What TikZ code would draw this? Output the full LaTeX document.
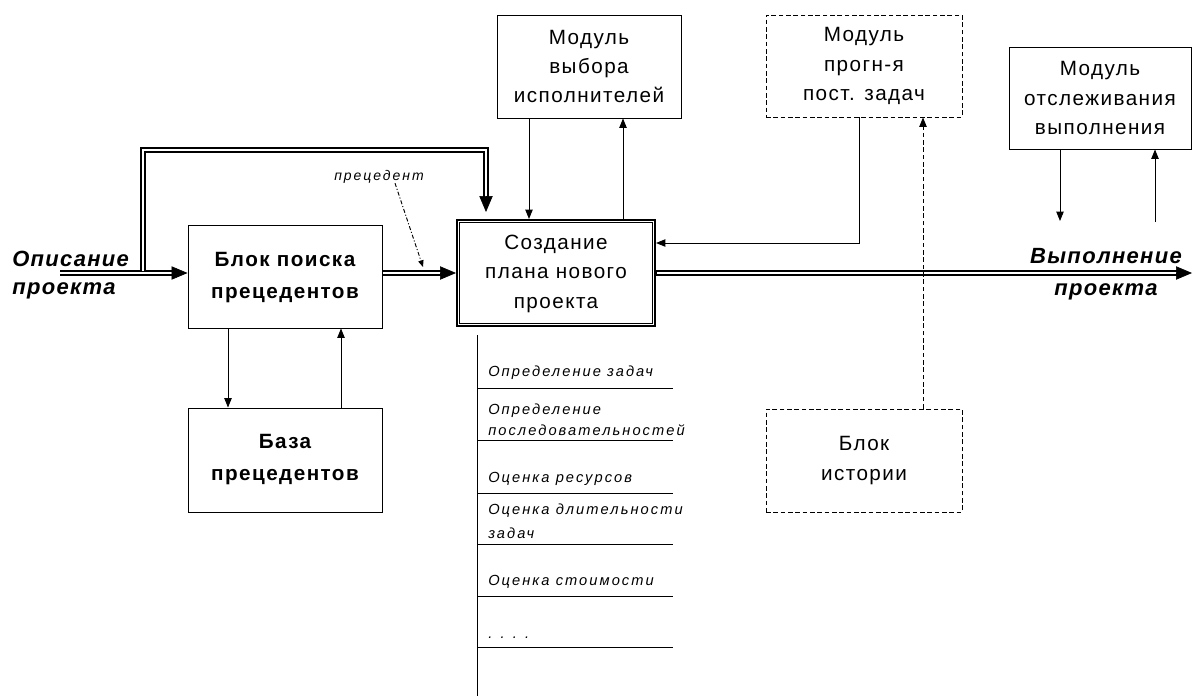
\documentclass[tikz,border=0pt]{standalone}
\usepackage{fontspec}
\setmainfont{Liberation Sans}
\newfontfamily\boxfont[LetterSpace=7]{Liberation Sans}
\newfontfamily\smallfont[LetterSpace=14]{Liberation Sans}
\newfontfamily\bigfont[LetterSpace=6]{Liberation Sans}
\usetikzlibrary{arrows.meta,calc}
\tikzset{
 box/.style={draw, line width=0.7pt, inner sep=0pt, align=center, font=\boxfont\fontsize{15.5}{22}\selectfont},
 boldbox/.style={box, font=\boxfont\bfseries\fontsize{15.5}{23}\selectfont},
 dbox/.style={box, dash pattern=on 3.5pt off 2pt},
 thinarr/.style={line width=0.7pt, -{Triangle[length=7pt,width=5.5pt]}},
 dblo/.style={line width=4.2pt, shorten >=9pt, line join=miter},
 dbli/.style={white, line width=1.6pt, shorten >=9pt, line join=miter},
 dtip/.style={line width=0.5pt, -{Triangle[length=12pt,width=10pt]}},
 big/.style={font=\bigfont\bfseries\itshape\fontsize{16.5}{22}\selectfont, inner sep=0pt},
 item/.style={font=\smallfont\itshape\fontsize{11}{16}\selectfont, inner sep=0pt, anchor=base west, align=left},
}
\begin{document}
\begin{tikzpicture}[x=0.75pt,y=-0.75pt]
\fill[white] (0,0) rectangle (1193,696);
\useasboundingbox (0,0) rectangle (1193,696);

% boxes
\node[boldbox, minimum width=145.5pt, minimum height=77.25pt] (A) at (285,276.5) {\raisebox{-4pt}{\begin{tabular}{@{}c@{}}Блок поиска\\[1pt]прецедентов\end{tabular}}};
\node[boldbox, minimum width=145.5pt, minimum height=78pt] (B) at (285,460) {База\\[1pt]прецедентов};
\node[box, minimum width=148.5pt, minimum height=79.5pt, line width=1.5pt] (C) at (556,273) {\raisebox{-3pt}{\begin{tabular}{@{}c@{}}Создание\\плана нового\\проекта\end{tabular}}};
\draw[line width=0.7pt] ([xshift=2.5pt,yshift=-2.5pt]C.north west) rectangle ([xshift=-2.5pt,yshift=2.5pt]C.south east);
\node[box, minimum width=138pt, minimum height=77.25pt] (D) at (589,66.5) {Модуль\\выбора\\исполнителей};
\node[dbox, minimum width=147pt, minimum height=76.5pt] (E) at (864,66) {Модуль\\прогн-я\\пост. задач};
\node[dbox, minimum width=147pt, minimum height=77.25pt] (F) at (864,460.5) {Блок\\истории};
\node[box, minimum width=136.5pt, minimum height=76.5pt] (G) at (1100,98) {Модуль\\отслеживания\\выполнения};

% labels (base anchor = last line's baseline)
\node[big, align=left, anchor=base west] (inl) at (12,294) {Описание\\[-1pt]проекта};
\node[big, align=center, anchor=base] (outl) at (1106,295) {Выполнение\\[2pt]проекта};
\node[font=\smallfont\itshape\fontsize{10.5}{12}\selectfont, inner sep=0pt, anchor=base] (prec) at (379,180) {прецедент};

% list
\draw[line width=0.75pt] (477,335) -- (477,696);
\foreach \y in {388,440,493,544,596,647} \draw[line width=0.7pt] (477,\y) -- (673,\y);
\node[item] (i1) at (488,376) {Определение задач};
\node[item, font=\smallfont\itshape\fontsize{11}{15.75}\selectfont] (i2) at (488,435) {Определение\\последовательностей};
\node[item] (i3) at (488,482) {Оценка ресурсов};
\node[item, font=\smallfont\itshape\fontsize{11}{18}\selectfont] (i4) at (488,538) {Оценка длительности\\задач};
\node[item] (i5) at (488,585) {Оценка стоимости};
\node[item] (i6) at (488,638) {. . . .};

% coordinates
\coordinate (in) at (60,273);
\coordinate (bj) at (143,270.5);
\coordinate (bc) at (143,150);
\coordinate (bd) at (486,150);
\coordinate (be) at (486,212);
\coordinate (out) at (1192,273);
\coordinate (pe) at (423,267);
\coordinate (gd) at (1060,221);
\coordinate (gu) at (1155,222);

% double connectors
\draw[dblo] (in) -- (in -| A.west);
\draw[dbli] (in) -- (in -| A.west);
\draw[dtip] ($(in -| A.west)+(-4,0)$) -- (in -| A.west);

\draw[dblo] (bj) -- (bc) -- (bd) -- (be);
\draw[dbli] (bj) -- (bc) -- (bd) -- (be);
\draw[dtip] ($(be)+(0,-4)$) -- (be);

\draw[dblo] (A.east |- C.west) -- (C.west);
\draw[dbli, shorten <=0.5pt] (A.east |- C.west) -- (C.west);
\draw[dtip] ($(C.west)+(-4,0)$) -- (C.west);

\draw[dblo] (C.east) -- (out);
\draw[dbli, shorten <=1pt] (C.east) -- (out);
\draw[dtip] ($(out)+(-4,0)$) -- (out);

% thin connectors
\draw[thinarr] ([xshift=-42.75pt]A.south) -- ([xshift=-42.75pt]A.south |- B.north);
\draw[thinarr] ([xshift=42pt]A.south |- B.north) -- ([xshift=42pt]A.south);
\draw[thinarr] ([xshift=-45pt]D.south) -- ([xshift=-45pt]D.south |- C.north);
\draw[thinarr] ([xshift=25.5pt]D.south |- C.north) -- ([xshift=25.5pt]D.south);
\draw[thinarr] ([xshift=-3.75pt]E.south) |- ([yshift=22.5pt]C.east);
\draw[thinarr, dash pattern=on 3.5pt off 2pt] ([xshift=44.25pt]F.north) -- ([xshift=44.25pt]F.north |- E.south);
\draw[thinarr] ([xshift=-30pt]G.south) -- (gd);
\draw[thinarr] (gu) -- ([xshift=41.25pt]G.south);
\draw[line width=0.7pt, dash pattern=on 3pt off 1.5pt on 0.8pt off 1.5pt, -{Triangle[length=5pt,width=4pt]}] ([xshift=12pt]prec.south) -- (pe);
\end{tikzpicture}
\end{document}
